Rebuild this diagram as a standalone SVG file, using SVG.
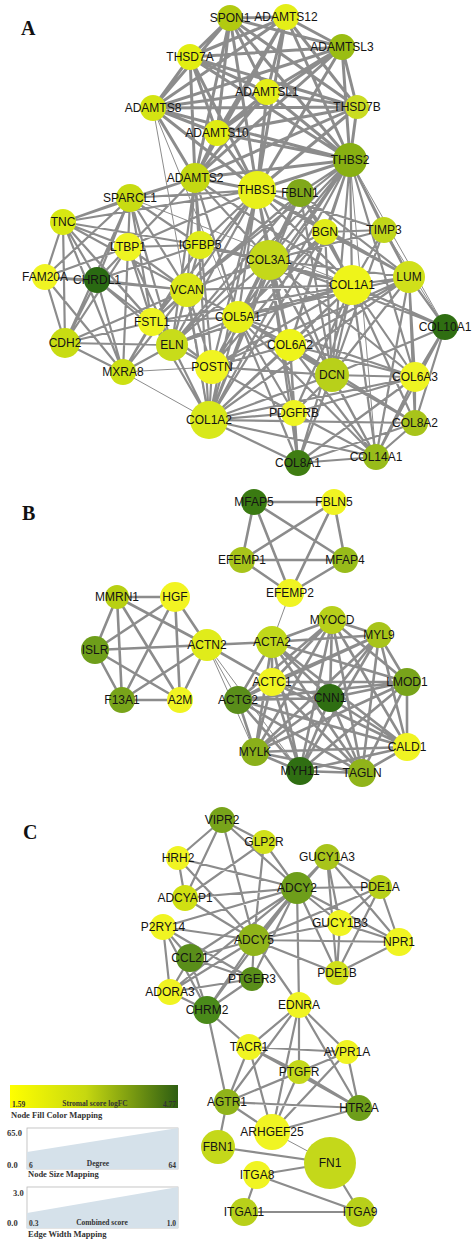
<svg xmlns="http://www.w3.org/2000/svg" width="474" height="1242" viewBox="0 0 474 1242">
<defs>
<linearGradient id="fillgrad" x1="0" y1="0" x2="1" y2="0">
<stop offset="0" stop-color="#ffff00"/>
<stop offset="0.45" stop-color="#c6d810"/>
<stop offset="1" stop-color="#2e5e12"/>
</linearGradient>
</defs>
<style>
.e1{fill:none;stroke:#8c8c8c;stroke-width:1}
.e2{fill:none;stroke:#8c8c8c;stroke-width:2.2}
.e2b{fill:none;stroke:#8c8c8c;stroke-width:2.6}
.e3{fill:none;stroke:#8c8c8c;stroke-width:3}
.n text{font-family:"Liberation Sans",Arial,sans-serif;font-size:12px;text-anchor:middle;fill:#141414}
.pl{font-family:"Liberation Serif","Times New Roman",serif;font-weight:bold;font-size:20px;fill:#111}
.lg{font-family:"Liberation Serif","Times New Roman",serif;font-weight:bold;font-size:7.5px;fill:#333}
.lgt{font-family:"Liberation Serif","Times New Roman",serif;font-weight:bold;font-size:8.5px;fill:#333}
.box{fill:#fff;stroke:#b8b8b8;stroke-width:0.8}
.area{fill:#d5e1ea}
</style>
<rect width="474" height="1242" fill="#fff"/>
<g id="connectors">
<path class="e3" d="M230 18L286 17M230 18L190 57M230 18L342 47M230 18L267 92M230 18L153 108M230 18L357 107M230 18L217 133M230 18L350 160M230 18L195 178M230 18L257 190M286 17L190 57M286 17L342 47M286 17L267 92M286 17L153 108M286 17L357 107M286 17L217 133M286 17L350 160M286 17L195 178M286 17L257 190M190 57L342 47M190 57L267 92M190 57L153 108M190 57L357 107M190 57L217 133M190 57L350 160M190 57L195 178M190 57L257 190M342 47L267 92M342 47L153 108M342 47L357 107M342 47L217 133M342 47L350 160M342 47L195 178M342 47L257 190M267 92L153 108M267 92L357 107M267 92L217 133M267 92L350 160M267 92L195 178M267 92L257 190M153 108L357 107M153 108L217 133M153 108L350 160M153 108L195 178M153 108L257 190M357 107L217 133M357 107L350 160M357 107L195 178M357 107L257 190M217 133L350 160M217 133L195 178M217 133L257 190M350 160L195 178M350 160L257 190M195 178L257 190"/>
<path class="e1" d="M153 108L238 317M153 108L209 420M350 160L376 457M350 160L445 327M352 285L130 198M209 420L123 372M384 230L445 327M123 372L212 367"/>
<path class="e2" d="M257 190L300 193M257 190L269 260M257 190L352 285M257 190L209 420M257 190L238 317M257 190L187 290M257 190L200 245M257 190L325 232M257 190L332 375M257 190L212 367M257 190L409 277M257 190L130 198M257 190L128 247M257 190L63 222M257 190L172 345M257 190L290 345M257 190L152 322M257 190L384 230
M350 160L300 193M350 160L269 260M350 160L352 285M350 160L209 420M350 160L238 317M350 160L325 232M350 160L384 230M350 160L409 277M350 160L332 375M350 160L290 345M350 160L415 377M350 160L187 290M350 160L212 367M350 160L172 345
M195 178L130 198M195 178L352 285M195 178L209 420M195 178L269 260M195 178L238 317M195 178L187 290M195 178L200 245M195 178L212 367M195 178L172 345M195 178L128 247M195 178L63 222
M300 193L352 285M300 193L269 260M300 193L325 232M300 193L172 345M300 193L152 322M300 193L332 375M300 193L409 277M300 193L209 420M300 193L238 317M300 193L187 290
M352 285L209 420M352 285L269 260M352 285L238 317M352 285L290 345M352 285L415 377M352 285L332 375M352 285L409 277M352 285L325 232M352 285L212 367M352 285L294 413M352 285L298 463M352 285L415 423M352 285L376 457M352 285L445 327M352 285L384 230M352 285L172 345M352 285L187 290M352 285L152 322M352 285L200 245
M209 420L269 260M209 420L238 317M209 420L290 345M209 420L415 377M209 420L332 375M209 420L409 277M209 420L325 232M209 420L212 367M209 420L294 413M209 420L298 463M209 420L415 423M209 420L376 457M209 420L172 345M209 420L187 290M209 420L152 322
M269 260L238 317M269 260L290 345M269 260L415 377M269 260L332 375M269 260L409 277M269 260L325 232M269 260L212 367M269 260L294 413M269 260L298 463M269 260L376 457M269 260L172 345M269 260L187 290M269 260L200 245M269 260L384 230M269 260L445 327
M238 317L290 345M238 317L415 377M238 317L332 375M238 317L409 277M238 317L325 232M238 317L212 367M238 317L294 413M238 317L298 463M238 317L172 345M238 317L187 290M238 317L152 322M238 317L376 457
M290 345L415 377M290 345L332 375M290 345L409 277M290 345L325 232M290 345L212 367M290 345L294 413M290 345L298 463M290 345L376 457M290 345L415 423
M415 377L332 375M415 377L409 277M415 377L294 413M415 377L298 463M415 377L415 423M415 377L376 457M415 377L445 327
M332 375L409 277M332 375L325 232M332 375L212 367M332 375L294 413M332 375L298 463M332 375L415 423M332 375L376 457M332 375L445 327M332 375L384 230
M409 277L325 232M409 277L384 230M409 277L445 327M409 277L415 423M409 277L376 457M409 277L212 367
M325 232L384 230M325 232L212 367M294 413L298 463M294 413L376 457M294 413L212 367M298 463L376 457M298 463L415 423M415 423L376 457M415 423L445 327M376 457L445 327
M63 222L130 198M63 222L128 247M63 222L45 277M63 222L97 280M63 222L65 343M63 222L187 290M63 222L152 322M63 222L123 372M63 222L200 245M63 222L172 345
M130 198L128 247M130 198L200 245M130 198L97 280M130 198L187 290M130 198L152 322M130 198L65 343M130 198L172 345M130 198L45 277
M128 247L200 245M128 247L97 280M128 247L187 290M128 247L152 322M128 247L65 343M128 247L123 372M128 247L172 345M128 247L45 277
M200 245L187 290M200 245L152 322M200 245L172 345M200 245L97 280M200 245L123 372
M45 277L97 280M45 277L65 343M45 277L123 372M45 277L187 290
M97 280L187 290M97 280L152 322M97 280L65 343M97 280L123 372M97 280L172 345
M187 290L152 322M187 290L172 345M187 290L65 343M187 290L123 372M187 290L212 367
M152 322L172 345M152 322L65 343M152 322L123 372M152 322L212 367
M65 343L172 345M65 343L123 372M172 345L123 372M172 345L212 367"/>
<path class="e2b" d="M254 502L334 502M254 502L242 560M254 502L345 560M254 502L290 593M334 502L242 560M334 502L345 560M334 502L290 593M242 560L345 560M242 560L290 593M345 560L290 593
M117 597L175 597M117 597L95 650M117 597L122 700M117 597L180 700M117 597L207 645M175 597L95 650M175 597L122 700M175 597L180 700M175 597L207 645M95 650L207 645M95 650L122 700M95 650L180 700M207 645L122 700M207 645L180 700M122 700L180 700
M207 645L272 642M207 645L272 682
M332 620L379 635M332 620L272 642M332 620L272 682M332 620L407 682M332 620L330 698M332 620L238 700M332 620L407 747M332 620L255 752M332 620L300 771M332 620L362 773
M379 635L272 642M379 635L272 682M379 635L407 682M379 635L330 698M379 635L238 700M379 635L407 747M379 635L255 752M379 635L300 771M379 635L362 773
M272 642L272 682M272 642L407 682M272 642L330 698M272 642L238 700M272 642L407 747M272 642L255 752M272 642L300 771M272 642L362 773
M272 682L407 682M272 682L330 698M272 682L238 700M272 682L407 747M272 682L255 752M272 682L300 771M272 682L362 773
M407 682L330 698M407 682L238 700M407 682L407 747M407 682L255 752M407 682L300 771M407 682L362 773
M330 698L238 700M330 698L407 747M330 698L255 752M330 698L300 771M330 698L362 773
M238 700L407 747M238 700L255 752M238 700L300 771M238 700L362 773
M407 747L255 752M407 747L300 771M407 747L362 773M255 752L300 771M255 752L362 773M300 771L362 773"/>
<path class="e1" d="M290 593L272 642M207 645L238 700M207 645L300 771M207 645L255 752M272 1132L330 1163"/>
<path class="e2" d="M222 820L178 858M222 820L185 898M222 820L264 842M222 820L297 888M222 820L254 940M178 858L185 898M178 858L297 888M178 858L254 940M185 898L297 888M185 898L254 940M264 842L297 888M264 842L254 940M264 842L185 898
M163 927L297 888M163 927L254 940M163 927L190 958M163 927L170 992M163 927L207 1010M163 927L252 979
M190 958L254 940M190 958L297 888M190 958L170 992M190 958L207 1010M190 958L252 979
M170 992L254 940M170 992L297 888M170 992L207 1010M170 992L252 979
M207 1010L254 940M207 1010L297 888M207 1010L252 979M207 1010L227 1102M207 1010L249 1047
M252 979L254 940M252 979L297 888M297 888L254 940
M297 888L327 857M297 888L380 887M297 888L340 923M297 888L337 973M297 888L299 1005M297 888L399 942
M254 940L340 923M254 940L399 942M254 940L337 973M254 940L299 1005M254 940L380 887M254 940L327 857
M327 857L380 887M327 857L340 923M327 857L337 973M327 857L399 942M380 887L340 923M380 887L399 942M380 887L337 973M340 923L399 942M340 923L337 973M399 942L337 973
M299 1005L249 1047M299 1005L347 1052M299 1005L299 1072M299 1005L227 1102M299 1005L359 1108M299 1005L272 1132
M249 1047L347 1052M249 1047L299 1072M249 1047L227 1102M249 1047L359 1108M249 1047L272 1132
M347 1052L299 1072M347 1052L227 1102M347 1052L359 1108M347 1052L272 1132
M299 1072L227 1102M299 1072L359 1108M299 1072L272 1132
M227 1102L359 1108M227 1102L272 1132M227 1102L218 1147M359 1108L272 1132
M218 1147L330 1163M330 1163L257 1175M330 1163L360 1212M257 1175L360 1212M257 1175L244 1212M244 1212L360 1212"/>
</g>
<text class="pl" x="21" y="35">A</text>
<text class="pl" x="22" y="520">B</text>
<text class="pl" x="23" y="839">C</text>
<g id="nodes-A" class="n">
<g id="n-SPON1"><circle cx="230" cy="18" r="13" fill="#b2ca10"/><text x="230" y="22">SPON1</text></g>
<g id="n-ADAMTS12"><circle cx="286" cy="17" r="13" fill="#e4ee18"/><text x="286" y="21">ADAMTS12</text></g>
<g id="n-THSD7A"><circle cx="190" cy="57" r="13" fill="#e2ee12"/><text x="190" y="61">THSD7A</text></g>
<g id="n-ADAMTSL3"><circle cx="342" cy="47" r="13" fill="#9abd12"/><text x="342" y="51">ADAMTSL3</text></g>
<g id="n-ADAMTSL1"><circle cx="267" cy="92" r="13" fill="#e4ee18"/><text x="267" y="96">ADAMTSL1</text></g>
<g id="n-ADAMTS8"><circle cx="153" cy="108" r="13" fill="#d4e412"/><text x="153" y="112">ADAMTS8</text></g>
<g id="n-THSD7B"><circle cx="357" cy="107" r="12" fill="#cadc22"/><text x="357" y="111">THSD7B</text></g>
<g id="n-ADAMTS10"><circle cx="217" cy="133" r="13" fill="#e0ec12"/><text x="217" y="137">ADAMTS10</text></g>
<g id="n-THBS2"><circle cx="350" cy="160" r="17" fill="#88b012"/><text x="350" y="164">THBS2</text></g>
<g id="n-ADAMTS2"><circle cx="195" cy="178" r="15" fill="#c4d812"/><text x="195" y="182">ADAMTS2</text></g>
<g id="n-THBS1"><circle cx="257" cy="190" r="19" fill="#e8f01a"/><text x="257" y="194">THBS1</text></g>
<g id="n-FBLN1"><circle cx="300" cy="193" r="14" fill="#80a81a"/><text x="300" y="197">FBLN1</text></g>
<g id="n-SPARCL1"><circle cx="130" cy="198" r="14" fill="#c8dc12"/><text x="130" y="202">SPARCL1</text></g>
<g id="n-TNC"><circle cx="63" cy="222" r="13" fill="#d8e812"/><text x="63" y="226">TNC</text></g>
<g id="n-BGN"><circle cx="325" cy="232" r="13" fill="#e0ec1a"/><text x="325" y="236">BGN</text></g>
<g id="n-TIMP3"><circle cx="384" cy="230" r="13" fill="#c0d61a"/><text x="384" y="234">TIMP3</text></g>
<g id="n-LTBP1"><circle cx="128" cy="247" r="14" fill="#eef422"/><text x="128" y="251">LTBP1</text></g>
<g id="n-IGFBP5"><circle cx="200" cy="245" r="14" fill="#e0ec1a"/><text x="200" y="249">IGFBP5</text></g>
<g id="n-COL3A1"><circle cx="269" cy="260" r="20" fill="#c4d81a"/><text x="269" y="264">COL3A1</text></g>
<g id="n-FAM20A"><circle cx="45" cy="277" r="13" fill="#f0f422"/><text x="45" y="281">FAM20A</text></g>
<g id="n-CHRDL1"><circle cx="97" cy="280" r="13" fill="#2a6a12"/><text x="97" y="284">CHRDL1</text></g>
<g id="n-COL1A1"><circle cx="352" cy="285" r="20" fill="#eef41a"/><text x="352" y="289">COL1A1</text></g>
<g id="n-LUM"><circle cx="409" cy="277" r="16" fill="#d0e01a"/><text x="409" y="281">LUM</text></g>
<g id="n-VCAN"><circle cx="187" cy="290" r="17" fill="#dce81a"/><text x="187" y="294">VCAN</text></g>
<g id="n-COL5A1"><circle cx="238" cy="317" r="16" fill="#e8f01a"/><text x="238" y="321">COL5A1</text></g>
<g id="n-FSTL1"><circle cx="152" cy="322" r="14" fill="#eef422"/><text x="152" y="326">FSTL1</text></g>
<g id="n-COL10A1"><circle cx="445" cy="327" r="13" fill="#2f6e12"/><text x="445" y="331">COL10A1</text></g>
<g id="n-CDH2"><circle cx="65" cy="343" r="15" fill="#c8dc12"/><text x="65" y="347">CDH2</text></g>
<g id="n-ELN"><circle cx="172" cy="345" r="16" fill="#c8dc1a"/><text x="172" y="349">ELN</text></g>
<g id="n-COL6A2"><circle cx="290" cy="345" r="16" fill="#eef41a"/><text x="290" y="349">COL6A2</text></g>
<g id="n-POSTN"><circle cx="212" cy="367" r="17" fill="#f0f422"/><text x="212" y="371">POSTN</text></g>
<g id="n-MXRA8"><circle cx="123" cy="372" r="13" fill="#cce012"/><text x="123" y="376">MXRA8</text></g>
<g id="n-DCN"><circle cx="332" cy="375" r="17" fill="#b8d01a"/><text x="332" y="379">DCN</text></g>
<g id="n-COL6A3"><circle cx="415" cy="377" r="15" fill="#eef422"/><text x="415" y="381">COL6A3</text></g>
<g id="n-PDGFRB"><circle cx="294" cy="413" r="13" fill="#eef422"/><text x="294" y="417">PDGFRB</text></g>
<g id="n-COL1A2"><circle cx="209" cy="420" r="19" fill="#d8e81a"/><text x="209" y="424">COL1A2</text></g>
<g id="n-COL8A2"><circle cx="415" cy="423" r="13" fill="#a8c41a"/><text x="415" y="427">COL8A2</text></g>
<g id="n-COL14A1"><circle cx="376" cy="457" r="13" fill="#98bc1a"/><text x="376" y="461">COL14A1</text></g>
<g id="n-COL8A1"><circle cx="298" cy="463" r="13" fill="#3f7d12"/><text x="298" y="467">COL8A1</text></g>
</g>
<g id="nodes-B" class="n">
<g id="n-MFAP5"><circle cx="254" cy="502" r="13" fill="#3a7a12"/><text x="254" y="506">MFAP5</text></g>
<g id="n-FBLN5"><circle cx="334" cy="502" r="13" fill="#f0f422"/><text x="334" y="506">FBLN5</text></g>
<g id="n-EFEMP1"><circle cx="242" cy="560" r="13" fill="#a8c41a"/><text x="242" y="564">EFEMP1</text></g>
<g id="n-MFAP4"><circle cx="345" cy="560" r="13" fill="#98bc1a"/><text x="345" y="564">MFAP4</text></g>
<g id="n-EFEMP2"><circle cx="290" cy="593" r="14" fill="#f0f422"/><text x="290" y="597">EFEMP2</text></g>
<g id="n-MMRN1"><circle cx="117" cy="597" r="12" fill="#b8d012"/><text x="117" y="601">MMRN1</text></g>
<g id="n-HGF"><circle cx="175" cy="597" r="15" fill="#f2f422"/><text x="175" y="601">HGF</text></g>
<g id="n-MYOCD"><circle cx="332" cy="620" r="14" fill="#b8d01a"/><text x="332" y="624">MYOCD</text></g>
<g id="n-MYL9"><circle cx="379" cy="635" r="13" fill="#a8c41a"/><text x="379" y="639">MYL9</text></g>
<g id="n-ACTA2"><circle cx="272" cy="642" r="16" fill="#c0d81a"/><text x="272" y="646">ACTA2</text></g>
<g id="n-ACTN2"><circle cx="207" cy="645" r="16" fill="#e0ec1a"/><text x="207" y="649">ACTN2</text></g>
<g id="n-ISLR"><circle cx="95" cy="650" r="14" fill="#6e9e1a"/><text x="95" y="654">ISLR</text></g>
<g id="n-ACTC1"><circle cx="272" cy="682" r="14" fill="#f0f422"/><text x="272" y="686">ACTC1</text></g>
<g id="n-LMOD1"><circle cx="407" cy="682" r="14" fill="#78a41a"/><text x="407" y="686">LMOD1</text></g>
<g id="n-CNN1"><circle cx="330" cy="698" r="14" fill="#2f6e12"/><text x="330" y="702">CNN1</text></g>
<g id="n-ACTG2"><circle cx="238" cy="700" r="14" fill="#5a8e1a"/><text x="238" y="704">ACTG2</text></g>
<g id="n-F13A1"><circle cx="122" cy="700" r="13" fill="#78a41a"/><text x="122" y="704">F13A1</text></g>
<g id="n-A2M"><circle cx="180" cy="700" r="13" fill="#f0f422"/><text x="180" y="704">A2M</text></g>
<g id="n-CALD1"><circle cx="407" cy="747" r="14" fill="#f0f422"/><text x="407" y="751">CALD1</text></g>
<g id="n-MYLK"><circle cx="255" cy="752" r="14" fill="#8ab01a"/><text x="255" y="756">MYLK</text></g>
<g id="n-MYH11"><circle cx="300" cy="771" r="14" fill="#2f6e12"/><text x="300" y="775">MYH11</text></g>
<g id="n-TAGLN"><circle cx="362" cy="773" r="14" fill="#90b41a"/><text x="362" y="777">TAGLN</text></g>
</g>
<g id="nodes-C" class="n">
<g id="n-VIPR2"><circle cx="222" cy="820" r="13" fill="#78a41a"/><text x="222" y="824">VIPR2</text></g>
<g id="n-GLP2R"><circle cx="264" cy="842" r="12" fill="#d0e01a"/><text x="264" y="846">GLP2R</text></g>
<g id="n-HRH2"><circle cx="178" cy="858" r="12" fill="#f0f422"/><text x="178" y="862">HRH2</text></g>
<g id="n-GUCY1A3"><circle cx="327" cy="857" r="13" fill="#a8c41a"/><text x="327" y="861">GUCY1A3</text></g>
<g id="n-ADCY2"><circle cx="297" cy="888" r="16" fill="#6e9e1a"/><text x="297" y="892">ADCY2</text></g>
<g id="n-PDE1A"><circle cx="380" cy="887" r="12" fill="#b8d01a"/><text x="380" y="891">PDE1A</text></g>
<g id="n-ADCYAP1"><circle cx="185" cy="898" r="13" fill="#d0e012"/><text x="185" y="902">ADCYAP1</text></g>
<g id="n-GUCY1B3"><circle cx="340" cy="923" r="13" fill="#f0f422"/><text x="340" y="927">GUCY1B3</text></g>
<g id="n-P2RY14"><circle cx="163" cy="927" r="13" fill="#f0f422"/><text x="163" y="931">P2RY14</text></g>
<g id="n-ADCY5"><circle cx="254" cy="940" r="16" fill="#90b41a"/><text x="254" y="944">ADCY5</text></g>
<g id="n-NPR1"><circle cx="399" cy="942" r="14" fill="#f0f422"/><text x="399" y="946">NPR1</text></g>
<g id="n-CCL21"><circle cx="190" cy="958" r="14" fill="#5a8e1a"/><text x="190" y="962">CCL21</text></g>
<g id="n-PDE1B"><circle cx="337" cy="973" r="12" fill="#d0e01a"/><text x="337" y="977">PDE1B</text></g>
<g id="n-PTGER3"><circle cx="252" cy="979" r="12" fill="#5a8e1a"/><text x="252" y="983">PTGER3</text></g>
<g id="n-ADORA3"><circle cx="170" cy="992" r="13" fill="#f0f422"/><text x="170" y="996">ADORA3</text></g>
<g id="n-EDNRA"><circle cx="299" cy="1005" r="13" fill="#f0f422"/><text x="299" y="1009">EDNRA</text></g>
<g id="n-CHRM2"><circle cx="207" cy="1010" r="14" fill="#4a8a1a"/><text x="207" y="1014">CHRM2</text></g>
<g id="n-TACR1"><circle cx="249" cy="1047" r="13" fill="#f0f422"/><text x="249" y="1051">TACR1</text></g>
<g id="n-AVPR1A"><circle cx="347" cy="1052" r="12" fill="#f0f422"/><text x="347" y="1056">AVPR1A</text></g>
<g id="n-PTGFR"><circle cx="299" cy="1072" r="12" fill="#c4d81a"/><text x="299" y="1076">PTGFR</text></g>
<g id="n-AGTR1"><circle cx="227" cy="1102" r="13" fill="#90b41a"/><text x="227" y="1106">AGTR1</text></g>
<g id="n-HTR2A"><circle cx="359" cy="1108" r="13" fill="#6e9e1a"/><text x="359" y="1112">HTR2A</text></g>
<g id="n-ARHGEF25"><circle cx="272" cy="1132" r="18" fill="#f0f422"/><text x="272" y="1136">ARHGEF25</text></g>
<g id="n-FBN1"><circle cx="218" cy="1147" r="17" fill="#c4d81a"/><text x="218" y="1151">FBN1</text></g>
<g id="n-FN1"><circle cx="330" cy="1163" r="26" fill="#c4d81a"/><text x="330" y="1167">FN1</text></g>
<g id="n-ITGA8"><circle cx="257" cy="1175" r="14" fill="#f0f422"/><text x="257" y="1179">ITGA8</text></g>
<g id="n-ITGA11"><circle cx="244" cy="1212" r="14" fill="#b8d01a"/><text x="244" y="1216">ITGA11</text></g>
<g id="n-ITGA9"><circle cx="360" cy="1212" r="15" fill="#b8d01a"/><text x="360" y="1216">ITGA9</text></g>
</g>
<g id="legend">
<rect x="10" y="1085" width="168" height="23" fill="url(#fillgrad)"/>
<text class="lg" x="12" y="1107">1.59</text>
<text class="lg" x="95" y="1106" text-anchor="middle">Stromal score logFC</text>
<text class="lg" x="176" y="1107" text-anchor="end">4.77</text>
<text class="lgt" x="11" y="1118">Node Fill Color Mapping</text>
<rect class="box" x="27" y="1128" width="151" height="41"/>
<polygon class="area" points="27,1152 178,1128 178,1169 27,1169"/>
<text class="lgt" x="7" y="1136">65.0</text>
<text class="lgt" x="7" y="1168">0.0</text>
<text class="lg" x="29" y="1168">6</text>
<text class="lg" x="98" y="1166" text-anchor="middle">Degree</text>
<text class="lg" x="176" y="1168" text-anchor="end">64</text>
<text class="lgt" x="28" y="1177">Node Size Mapping</text>
<rect class="box" x="27" y="1187" width="151" height="41"/>
<polygon class="area" points="27,1213 178,1187 178,1228 27,1228"/>
<text class="lgt" x="13" y="1196">3.0</text>
<text class="lgt" x="7" y="1226">0.0</text>
<text class="lg" x="29" y="1226">0.3</text>
<text class="lg" x="102" y="1225" text-anchor="middle">Combined score</text>
<text class="lg" x="176" y="1226" text-anchor="end">1.0</text>
<text class="lgt" x="28" y="1237">Edge Width Mapping</text>
</g>
</svg>
